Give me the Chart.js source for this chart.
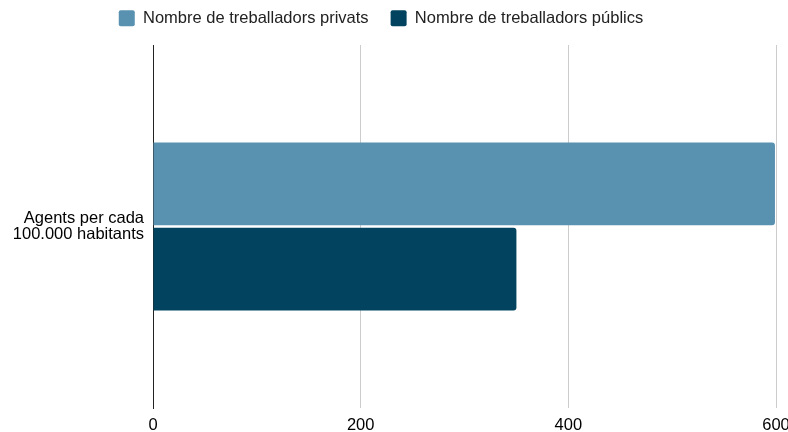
<!DOCTYPE html>
<html lang="ca">
<head>
    <meta charset="UTF-8">
    <title>Agents per cada 100.000 habitants</title>
    <style>
        html, body { margin: 0; padding: 0; background: #fff; }
        #wrap { width: 788px; height: 432px; }
    </style>
</head>
<body>
    <div id="wrap"><canvas id="chart" width="788" height="432"></canvas></div>

    <script src="https://cdn.jsdelivr.net/npm/chart.js"></script>
    <script>
        // Dades
        const categories = [['Agents per cada', '100.000 habitants']];
        const privats = [599];
        const publics = [350];
        const xTicks = [0, 200, 400, 600];

        const font = "'Liberation Sans', Arial, sans-serif";

        // alçada fixa de la llegenda i una mica desplaçada cap a l'esquerra/amunt
        const legendTweak = {
            id: 'legendTweak',
            beforeInit(chart) {
                const legend = chart.legend;
                const fit = legend.fit;
                const draw = legend.draw;
                legend.fit = function () {
                    fit.call(legend);
                    legend.height = 45;
                };
                legend.draw = function () {
                    const c = chart.ctx;
                    c.save();
                    c.translate(-13, -12);
                    draw.call(legend);
                    c.restore();
                };
            }
        };

        const ctx = document.getElementById('chart').getContext('2d');
        new Chart(ctx, {
            type: 'bar',
            data: {
                labels: categories,
                datasets: [
                    {
                        label: 'Nombre de treballadors privats',
                        data: privats,
                        backgroundColor: '#5991b0',
                        borderRadius: 3,
                        borderSkipped: 'start',
                        categoryPercentage: 0.47,
                        barPercentage: 0.97
                    },
                    {
                        label: 'Nombre de treballadors públics',
                        data: publics,
                        backgroundColor: '#02445f',
                        borderRadius: 3,
                        borderSkipped: 'start',
                        categoryPercentage: 0.47,
                        barPercentage: 0.97
                    }
                ]
            },
            options: {
                indexAxis: 'y',
                responsive: false,
                animation: false,
                layout: { padding: 0 },
                scales: {
                    x: {
                        min: 0,
                        max: 600,
                        afterBuildTicks: (axis) => { axis.ticks = xTicks.map(v => ({ value: v })); },
                        afterFit: (axis) => {
                            axis.height = 24;
                            axis.paddingLeft = 0;
                            axis.paddingRight = 12;
                        },
                        border: { display: false },
                        grid: {
                            drawTicks: false,
                            color: (c) => c.tick && c.tick.value === 0 ? 'rgba(0,0,0,0)' : '#cccccc'
                        },
                        ticks: {
                            color: '#000',
                            padding: 8,
                            font: { family: font, size: 16.5 }
                        }
                    },
                    y: {
                        afterFit: (axis) => { axis.width = 153; },
                        border: { display: true, color: '#222', width: 1 },
                        grid: { display: false },
                        ticks: {
                            color: '#000',
                            padding: 1,
                            font: { family: font, size: 16.5, lineHeight: 1 }
                        }
                    }
                },
                plugins: {
                    legend: {
                        position: 'top',
                        labels: {
                            color: '#222',
                            boxWidth: 16,
                            boxHeight: 16,
                            padding: 22,
                            useBorderRadius: true,
                            borderRadius: 2,
                            font: { family: font, size: 16.5 }
                        }
                    },
                    tooltip: { enabled: false }
                }
            },
            plugins: [legendTweak]
        });
    </script>
</body>
</html>
